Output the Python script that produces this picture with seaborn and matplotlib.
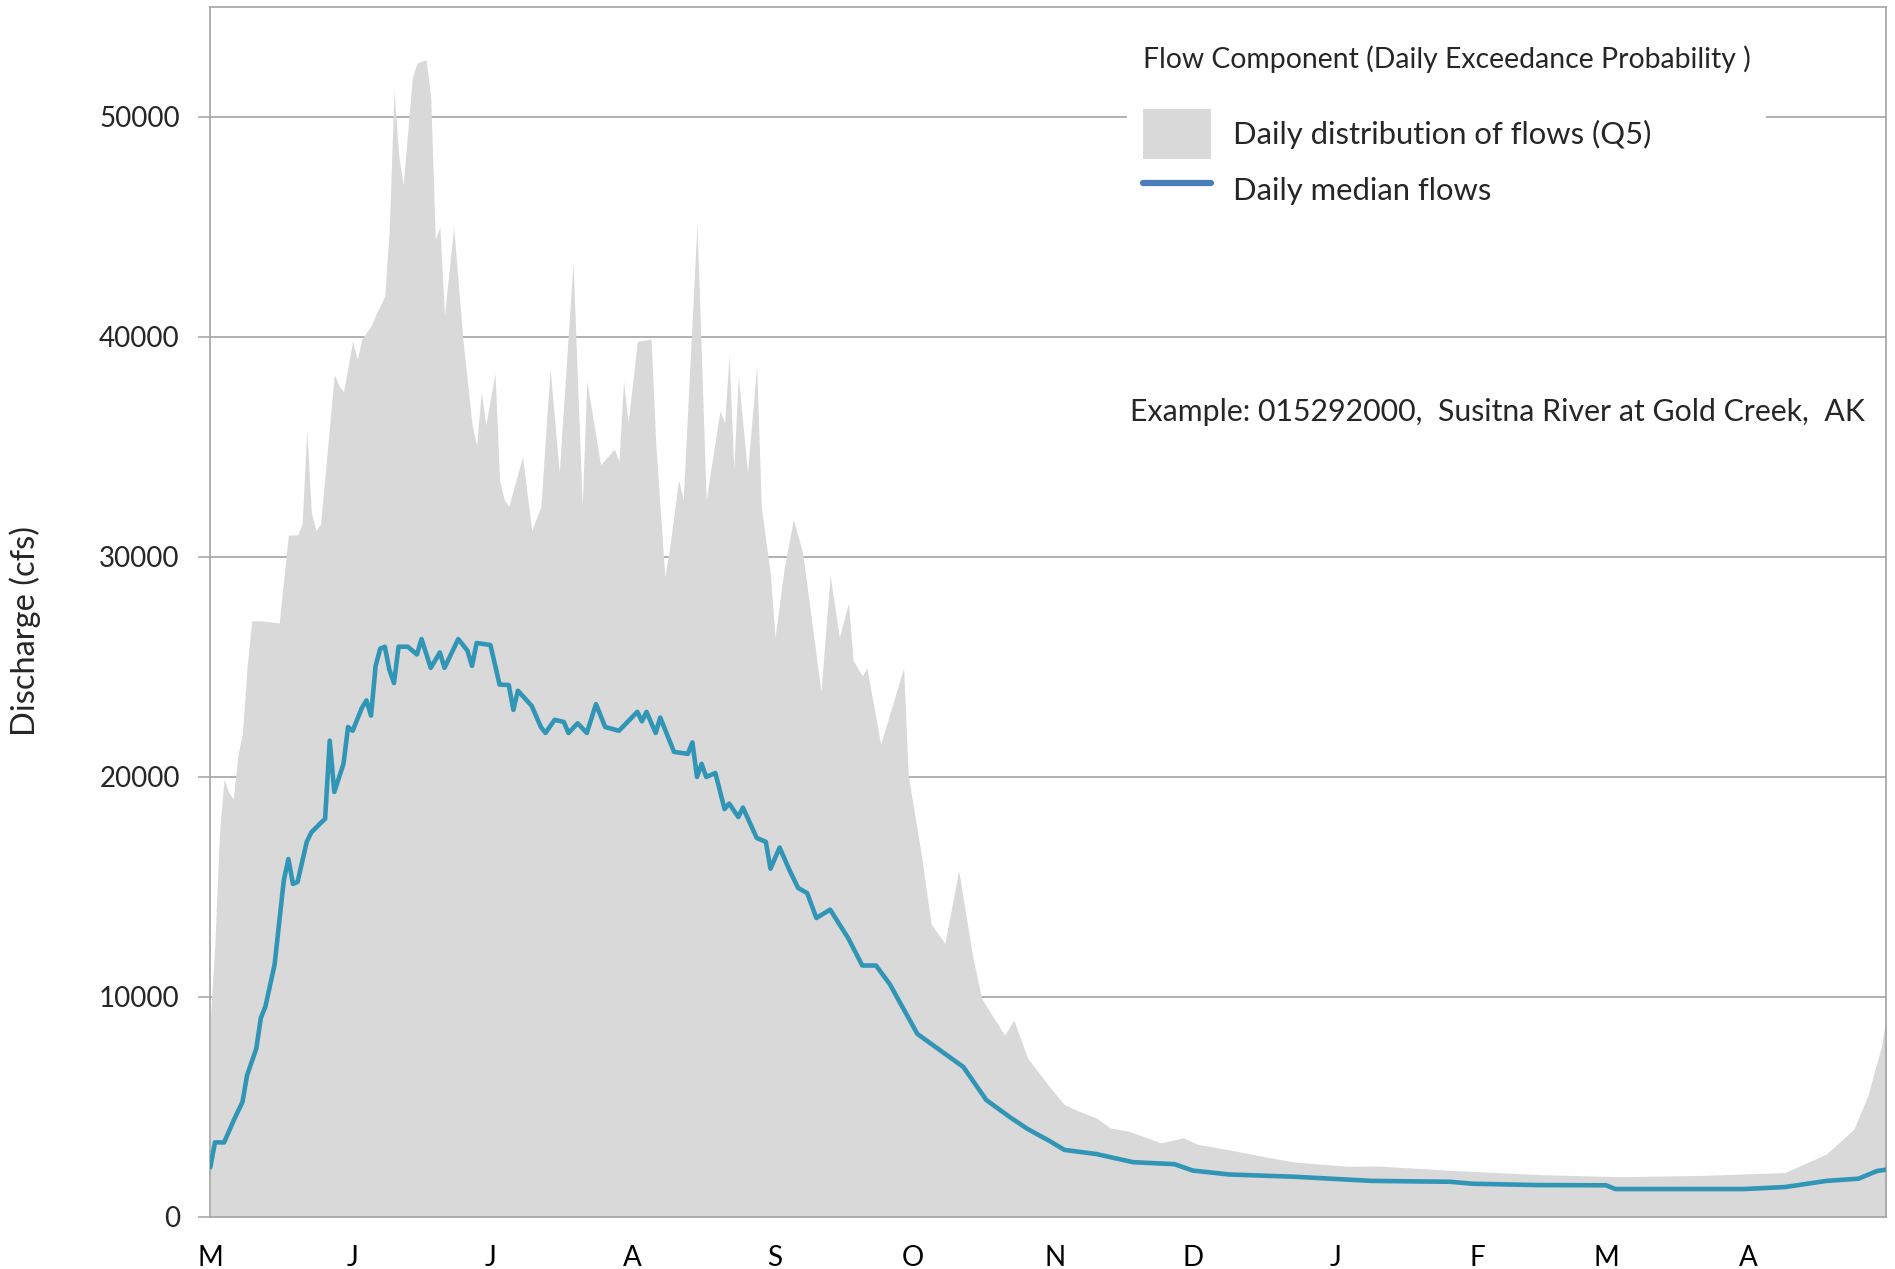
import numpy as np
import pandas as pd
import matplotlib
matplotlib.use("Agg")
import matplotlib.pyplot as plt
from matplotlib.patches import Patch
from matplotlib.lines import Line2D
import seaborn as sns

# Daily Q5 flows (upper envelope), day 0 = 1 May
env_day = [0, 1, 2, 3, 4, 5, 6, 7, 8, 9, 11, 15, 16, 17, 19, 20, 21, 22, 23, 24,
           26, 27, 28, 29, 31, 32, 33, 35, 36, 38, 39, 40, 41, 42, 44, 45, 47, 48,
           49, 50, 51, 53, 55, 57, 58, 59, 60, 62, 63, 64, 65, 68, 70, 72, 74, 76,
           79, 81, 82, 85, 88, 89, 90, 91, 93, 96, 97, 99, 100, 102, 103, 106, 108,
           111, 112, 113, 114, 115, 117, 119, 120, 122, 123, 125, 127, 129, 133, 135,
           137, 139, 140, 142, 143, 146, 148, 151, 152, 155, 157, 160, 163, 166, 168,
           173, 175, 178, 183, 186, 189, 193, 196, 200, 204, 207, 212, 215, 222, 228,
           236, 248, 254, 271, 289, 307, 325, 343, 352, 358, 361, 364, 365]
env_q5 = [9000, 12500, 17500, 19900, 19300, 19000, 21000, 22000, 25000, 27100, 27100,
          27000, 29000, 31000, 31000, 31500, 35800, 32000, 31200, 31500,
          36000, 38300, 37800, 37500, 39800, 39000, 39900, 40500, 41000, 41850, 45000,
          51250, 48300, 46900, 51800, 52450, 52600, 50900,
          44450, 45000, 41000, 45000, 39900, 36000, 35060, 37500, 36000, 38350, 33500,
          32600, 32300, 34550, 31200, 32300, 38550, 33850,
          43400, 32300, 38000, 34200, 34900, 34350, 38000, 36100, 39800, 39900, 35200,
          29100, 30350, 33500, 32600, 45150, 32600,
          36650, 36100, 39200, 34000, 38200, 33850, 38700, 32300, 29150, 26350, 29500,
          31700, 30200, 23900, 29150,
          26350, 27900, 25300, 24600, 24950, 21500, 22870, 24950, 20100, 16270, 13300,
          12440, 15740, 11900, 9930,
          8270, 8950, 7230, 5860, 5110, 4820, 4500, 4050, 3900, 3600, 3370, 3600, 3300,
          3050, 2800, 2500, 2300, 2320, 2110, 1930, 1830, 1890, 2020, 2860, 4000, 5500,
          7760, 9070]

# Daily median flows
med_day = [0, 1, 3, 5, 7, 8, 10, 11, 12, 14, 15, 16, 17, 18, 19, 21, 22, 24, 25, 26,
           27, 29, 30, 31, 33, 34, 35, 36, 37, 38, 39, 40, 41, 43, 45, 46, 48, 50, 51,
           54, 56, 57, 58, 61, 63, 65, 66, 67, 70, 72, 73, 75, 77, 78, 80, 82, 84, 86,
           89, 91, 93, 94, 95, 97, 98, 101, 104, 105, 106, 107, 108, 110, 112, 113, 115,
           116, 119, 121, 122, 124, 126, 128, 130, 132, 135, 139, 142, 145, 148, 151,
           154, 159, 164, 169, 174, 178, 183, 186, 193, 201, 210, 214, 222, 236, 244,
           253, 270, 275, 289, 304, 306, 334, 343, 352, 359, 363, 365]
med_flow = [2260, 3390, 3390, 4350, 5230, 6440, 7650, 9050, 9570, 11480, 13400, 15300,
            16270, 15140, 15230, 17050, 17480, 17900, 18100, 21650,
            19320, 20600, 22270, 22100, 23140, 23480, 22790, 25050, 25830, 25920, 24870,
            24270, 25920, 25920, 25570, 26270, 24960, 25660, 24960,
            26270, 25740, 25050, 26090, 26000, 24200, 24180, 23050, 23920, 23230, 22270,
            22000, 22600, 22500, 22000, 22440, 22000, 23310, 22270,
            22100, 22530, 22960, 22530, 22960, 22000, 22700, 21140, 21050, 21570, 20000,
            20600, 20000, 20180, 18540, 18790, 18180,
            18610, 17230, 17050, 15830, 16790, 15830, 14960, 14720, 13590, 13970, 12650,
            11430, 11430, 10580, 9450,
            8320, 7570, 6820, 5320, 4560, 4000, 3430, 3050, 2860, 2490, 2400, 2110, 1930,
            1830, 1740,
            1640, 1600, 1510, 1450, 1440, 1270, 1270, 1360, 1640, 1740, 2090, 2150]

month_start = [0, 31, 61, 92, 123, 153, 184, 214, 245, 276, 304, 335]
month_labels = ["M", "J", "J", "A", "S", "O", "N", "D", "J", "F", "M", "A"]
y_ticks = [0, 10000, 20000, 30000, 40000, 50000]

sns.set_theme(style="white")
plt.rcParams["font.family"] = ["Lato", "DejaVu Sans"]

fig = plt.figure(figsize=(18.95, 12.69), dpi=100)
ax = fig.add_axes([0.111, 0.041, 0.8843, 0.9535])

grid_c = "#A3A3A3"
fill_c = "#D9D9D9"
line_c = "#3195B6"

ax.fill_between(env_day, env_q5, color=fill_c, lw=0, zorder=2)
df_med = pd.DataFrame({"day": med_day, "flow": med_flow})
sns.lineplot(data=df_med, x="day", y="flow", ax=ax, color=line_c, lw=3.3, zorder=3)

ax.set_xlim(0, 365)
ax.set_ylim(0, 55000)
ax.set_xticks(month_start)
ax.set_xticklabels(month_labels)
ax.set_yticks(y_ticks)
ax.set_yticklabels([str(v) for v in y_ticks])
ax.yaxis.grid(True, color=grid_c, lw=1.2)
ax.set_axisbelow(True)
ax.tick_params(axis="x", length=0, pad=20, labelsize=20, colors="black")
ax.tick_params(axis="y", length=9, width=1.1, color=grid_c, pad=13, labelsize=20,
               left=True)
for s in ax.spines.values():
    s.set_color(grid_c)
    s.set_linewidth(1.2)

ax.set_xlabel("")
ax.set_ylabel("Discharge (cfs)", fontsize=23.5)
ax.yaxis.set_label_coords(-0.101, 0.484)

ax.text(0.549, 0.665, "Example: 015292000,  Susitna River at Gold Creek,  AK",
        transform=ax.transAxes, fontsize=21.8, va="center", ha="left")

handles = [Patch(facecolor=fill_c, edgecolor="none"),
           Line2D([], [], color="#4A7EBB", lw=4.5)]
leg = ax.legend(handles, ["Daily distribution of flows (Q5)", "Daily median flows"],
                loc="upper left", bbox_to_anchor=(0.538, 0.994),
                title="Flow Component (Daily Exceedance Probability )\n",
                title_fontsize=20.4, fontsize=22.3, frameon=True,
                facecolor="white", edgecolor="none", framealpha=1,
                handlelength=2.2, handleheight=2.1, handletextpad=0.72,
                labelspacing=0.2, borderpad=0.5, alignment="left")
leg.set_zorder(5)

fig.savefig("out.png", dpi=100)
